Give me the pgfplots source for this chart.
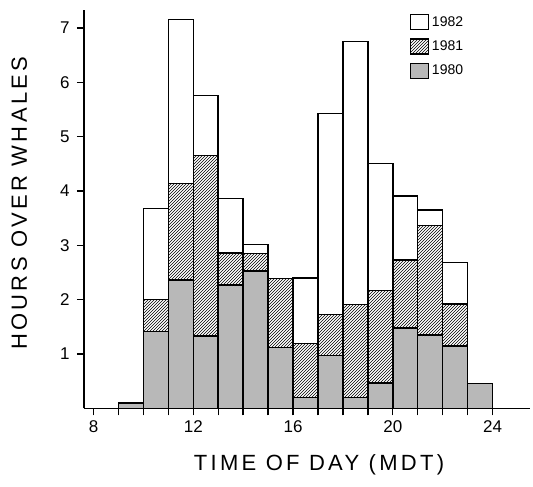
\documentclass[border=0pt]{standalone}
\usepackage{pgfplots}
\usepackage{pgfplotstable}
\pgfplotsset{compat=1.18}
\usetikzlibrary{patterns}
\usepackage{fontspec}
\setmainfont{Liberation Sans}
\newfontfamily\lblfont[LetterSpace=15]{Liberation Sans}

\pgfplotstableread{
x    a     b     c
9.5  0.10  0.00  0.00
10.5 1.42  0.58  1.68
11.5 2.36  1.78  3.01
12.5 1.33  3.32  1.11
13.5 2.27  0.59  1.00
14.5 2.53  0.32  0.17
15.5 1.12  1.27  0.00
16.5 0.20  1.00  1.20
17.5 0.97  0.76  3.70
18.5 0.20  1.71  4.84
19.5 0.47  1.70  2.34
20.5 1.48  1.25  1.18
21.5 1.35  2.02  0.28
22.5 1.15  0.77  0.77
23.5 0.46  0.00  0.00
}\data

\begin{document}
\begin{tikzpicture}
\useasboundingbox (-84pt,-78.5pt) rectangle (449pt,408.5pt);
\begin{axis}[
  at={(0,0)}, anchor=south west,
  scale only axis, width=446pt, height=398.5pt,
  xmin=7.62, xmax=25.5, ymin=0, ymax=7.33,
  ybar stacked, bar width=1, bar shift=0pt,
  axis x line*=bottom, axis y line*=left,
  axis line style={-, line width=1.5pt},
  xtick={8,...,24},
  xticklabels={8,,,,12,,,,16,,,,20,,,,24},
  ytick={1,...,7},
  tick align=outside,
  major tick length=7pt,
  tick style={line width=1.3pt, black},
  /pgf/number format/assume math mode=true,
  tick label style={font=\fontsize{17}{17}\selectfont},
  xticklabel style={yshift=-2pt},
  yticklabel style={xshift=-4pt},
  xlabel={\lblfont TIME OF DAY (MDT)},
  ylabel={\lblfont HOURS OVER WHALES},
  label style={font=\fontsize{22}{22}\selectfont},
  xlabel style={at={(axis description cs:0.527,-0.142)}, anchor=center},
  ylabel style={at={(axis description cs:-0.145,0.515)}, anchor=center},
  legend style={draw=none, fill=none, at={(0.73,0.99)}, anchor=north west,
    font=\fontsize{14}{14}\selectfont, row sep=8pt, inner sep=0pt,
    nodes={inner xsep=3pt}},
  legend cell align=left,
  reverse legend,
  legend image code/.code={\draw[#1, line width=1.2pt] (0pt,-7.5pt) rectangle (18pt,7.5pt);},
  every axis plot/.append style={draw=black, line width=1.4pt},
]
\addplot[fill=black!28] table[x=x,y=a]{\data};
\addlegendentry{1980}
\addplot[pattern=north east lines] table[x=x,y=b]{\data};
\addlegendentry{1981}
\addplot[fill=white] table[x=x,y=c]{\data};
\addlegendentry{1982}
\end{axis}
\end{tikzpicture}
\end{document}
